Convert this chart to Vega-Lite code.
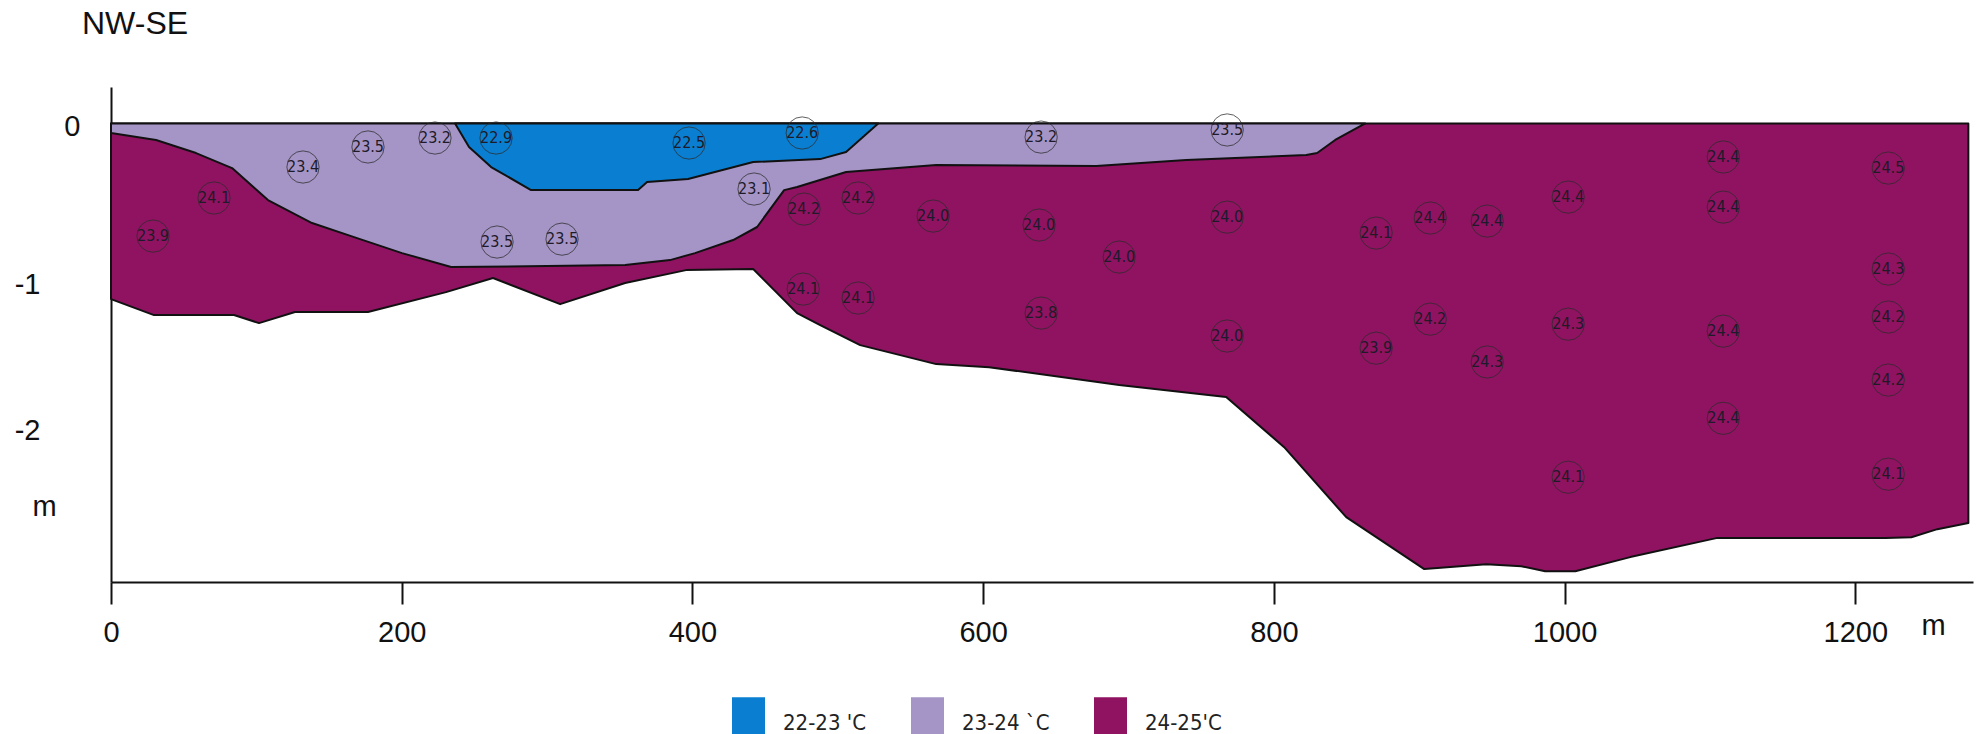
{
  "$schema": "https://vega.github.io/schema/vega-lite/v6.json",
  "width": 1862,
  "height": 495,
  "autosize": {"type": "none"},
  "padding": {"left": 111, "top": 87, "right": 7, "bottom": 152},
  "background": "white",
  "config": {"view": {"stroke": null}, "font": "Liberation Sans"},
  "title": {"text": "NW-SE", "anchor": "start", "frame": "group", "dx": -29, "dy": -21, "offset": 0, "baseline": "alphabetic", "fontSize": 32, "fontWeight": "normal", "font": "Liberation Sans", "color": "#111"},
  "datasets": {
    "bottom": [
      {"x": 0, "y": -1.157, "zone": "24-25'C"}, {"x": 29.6, "y": -1.262, "zone": "24-25'C"}, {"x": 84.6, "y": -1.262, "zone": "24-25'C"},
      {"x": 101.8, "y": -1.315, "zone": "24-25'C"}, {"x": 126.6, "y": -1.242, "zone": "24-25'C"}, {"x": 176.8, "y": -1.242, "zone": "24-25'C"},
      {"x": 230.5, "y": -1.111, "zone": "24-25'C"}, {"x": 262.8, "y": -1.018, "zone": "24-25'C"}, {"x": 309.0, "y": -1.19, "zone": "24-25'C"},
      {"x": 353.7, "y": -1.051, "zone": "24-25'C"}, {"x": 395.6, "y": -0.966, "zone": "24-25'C"}, {"x": 441.8, "y": -0.959, "zone": "24-25'C"},
      {"x": 472.0, "y": -1.249, "zone": "24-25'C"}, {"x": 487.9, "y": -1.328, "zone": "24-25'C"}, {"x": 515.4, "y": -1.46, "zone": "24-25'C"},
      {"x": 567.7, "y": -1.585, "zone": "24-25'C"}, {"x": 604.1, "y": -1.605, "zone": "24-25'C"}, {"x": 693.6, "y": -1.723, "zone": "24-25'C"},
      {"x": 767.2, "y": -1.802, "zone": "24-25'C"}, {"x": 807.1, "y": -2.132, "zone": "24-25'C"}, {"x": 849.8, "y": -2.593, "zone": "24-25'C"},
      {"x": 903.5, "y": -2.935, "zone": "24-25'C"}, {"x": 946.1, "y": -2.903, "zone": "24-25'C"}, {"x": 970.2, "y": -2.916, "zone": "24-25'C"},
      {"x": 986.7, "y": -2.949, "zone": "24-25'C"}, {"x": 1007.4, "y": -2.949, "zone": "24-25'C"}, {"x": 1045.2, "y": -2.856, "zone": "24-25'C"},
      {"x": 1104.4, "y": -2.731, "zone": "24-25'C"}, {"x": 1220.7, "y": -2.731, "zone": "24-25'C"}, {"x": 1238.6, "y": -2.725, "zone": "24-25'C"},
      {"x": 1256.5, "y": -2.672, "zone": "24-25'C"}, {"x": 1277.8, "y": -2.632, "zone": "24-25'C"}
    ],
    "lightpurple": [
      {"x": 0, "y": -0.063, "zone": "23-24 `C"}, {"x": 31.0, "y": -0.109, "zone": "23-24 `C"}, {"x": 58.5, "y": -0.195, "zone": "23-24 `C"},
      {"x": 83.3, "y": -0.294, "zone": "23-24 `C"}, {"x": 108.0, "y": -0.505, "zone": "23-24 `C"}, {"x": 138.3, "y": -0.656, "zone": "23-24 `C"},
      {"x": 169.3, "y": -0.755, "zone": "23-24 `C"}, {"x": 200.2, "y": -0.854, "zone": "23-24 `C"}, {"x": 234.0, "y": -0.946, "zone": "23-24 `C"},
      {"x": 353.7, "y": -0.933, "zone": "23-24 `C"}, {"x": 384.6, "y": -0.9, "zone": "23-24 `C"}, {"x": 401.8, "y": -0.854, "zone": "23-24 `C"},
      {"x": 428.0, "y": -0.768, "zone": "23-24 `C"}, {"x": 444.5, "y": -0.682, "zone": "23-24 `C"}, {"x": 463.1, "y": -0.439, "zone": "23-24 `C"},
      {"x": 472.0, "y": -0.419, "zone": "23-24 `C"}, {"x": 505.7, "y": -0.32, "zone": "23-24 `C"}, {"x": 567.7, "y": -0.274, "zone": "23-24 `C"},
      {"x": 677.8, "y": -0.281, "zone": "23-24 `C"}, {"x": 739.7, "y": -0.241, "zone": "23-24 `C"}, {"x": 822.3, "y": -0.208, "zone": "23-24 `C"},
      {"x": 829.8, "y": -0.195, "zone": "23-24 `C"}, {"x": 842.2, "y": -0.109, "zone": "23-24 `C"}, {"x": 862.9, "y": 0, "zone": "23-24 `C"}
    ],
    "blue": [
      {"x": 236.7, "y": 0, "zone": "22-23 'C"}, {"x": 246.3, "y": -0.155, "zone": "22-23 'C"}, {"x": 261.5, "y": -0.287, "zone": "22-23 'C"},
      {"x": 289.0, "y": -0.439, "zone": "22-23 'C"}, {"x": 362.6, "y": -0.439, "zone": "22-23 'C"}, {"x": 368.8, "y": -0.386, "zone": "22-23 'C"},
      {"x": 397.0, "y": -0.366, "zone": "22-23 'C"}, {"x": 441.8, "y": -0.254, "zone": "22-23 'C"}, {"x": 487.9, "y": -0.235, "zone": "22-23 'C"},
      {"x": 505.7, "y": -0.188, "zone": "22-23 'C"}, {"x": 527.8, "y": 0, "zone": "22-23 'C"}
    ],
    "stations": [
      {"x": 222.9, "y": -0.096, "T": 23.2}, {"x": 264.9, "y": -0.096, "T": 22.9}, {"x": 397.7, "y": -0.129, "T": 22.5},
      {"x": 176.8, "y": -0.155, "T": 23.5}, {"x": 132.1, "y": -0.287, "T": 23.4}, {"x": 70.9, "y": -0.491, "T": 24.1},
      {"x": 28.9, "y": -0.742, "T": 23.9}, {"x": 265.6, "y": -0.781, "T": 23.5}, {"x": 310.3, "y": -0.762, "T": 23.5},
      {"x": 475.5, "y": -0.063, "T": 22.6}, {"x": 639.9, "y": -0.09, "T": 23.2}, {"x": 767.9, "y": -0.043, "T": 23.5},
      {"x": 442.4, "y": -0.432, "T": 23.1}, {"x": 476.8, "y": -0.564, "T": 24.2}, {"x": 514.0, "y": -0.491, "T": 24.2},
      {"x": 565.6, "y": -0.61, "T": 24.0}, {"x": 638.5, "y": -0.669, "T": 24.0}, {"x": 693.6, "y": -0.88, "T": 24.0},
      {"x": 767.9, "y": -0.617, "T": 24.0}, {"x": 476.2, "y": -1.091, "T": 24.1}, {"x": 514.0, "y": -1.15, "T": 24.1},
      {"x": 639.9, "y": -1.249, "T": 23.8}, {"x": 767.9, "y": -1.4, "T": 24.0}, {"x": 1109.2, "y": -0.221, "T": 24.4},
      {"x": 1222.7, "y": -0.294, "T": 24.5}, {"x": 1002.5, "y": -0.485, "T": 24.4}, {"x": 1109.2, "y": -0.551, "T": 24.4},
      {"x": 870.4, "y": -0.722, "T": 24.1}, {"x": 907.6, "y": -0.623, "T": 24.4}, {"x": 946.8, "y": -0.643, "T": 24.4},
      {"x": 1222.7, "y": -0.959, "T": 24.3}, {"x": 907.6, "y": -1.289, "T": 24.2}, {"x": 1002.5, "y": -1.322, "T": 24.3},
      {"x": 1109.2, "y": -1.368, "T": 24.4}, {"x": 1222.7, "y": -1.275, "T": 24.2}, {"x": 870.4, "y": -1.48, "T": 23.9},
      {"x": 946.8, "y": -1.571, "T": 24.3}, {"x": 1222.7, "y": -1.69, "T": 24.2}, {"x": 1109.2, "y": -1.942, "T": 24.4},
      {"x": 1002.5, "y": -2.33, "T": 24.1}, {"x": 1222.7, "y": -2.31, "T": 24.1}
    ]
  },
  "encoding": {
    "x": {
      "field": "x", "type": "quantitative",
      "scale": {"domain": [0, 1281], "nice": false, "zero": false},
      "axis": {
        "values": [0, 200, 400, 600, 800, 1000, 1200], "format": "d", "grid": false, "labelFlush": false,
        "domainColor": "#111", "domainWidth": 2, "tickColor": "#111", "tickWidth": 2, "tickSize": 22,
        "labelFontSize": 29, "labelColor": "#111", "labelPadding": 14, "labelFont": "Liberation Sans",
        "title": "m", "titleX": 1822, "titleY": 52, "titleAlign": "center", "titleBaseline": "alphabetic",
        "titleFontSize": 29, "titleFontWeight": "normal", "titleColor": "#111", "titleFont": "Liberation Sans"
      }
    },
    "y": {
      "field": "y", "type": "quantitative",
      "scale": {"domain": [-3.02, 0.24], "nice": false, "zero": false},
      "axis": {
        "values": [0, -1, -2], "grid": false, "ticks": false, "tickSize": 0,
        "domainColor": "#111", "domainWidth": 2,
        "labelFontSize": 29, "labelColor": "#111", "labelFont": "Liberation Sans",
        "labelPadding": {"condition": {"test": "datum.value === 0", "value": 31}, "value": 71},
        "labelOffset": {"condition": {"test": "datum.value === -1", "value": 9}, "value": 3},
        "labelExpr": "replace(datum.label, '\u2212', '-')",
        "title": "m", "titleAngle": 0, "titleX": -67, "titleY": 428, "titleAlign": "center", "titleBaseline": "alphabetic",
        "titleFontSize": 29, "titleFontWeight": "normal", "titleColor": "#111", "titleFont": "Liberation Sans"
      }
    }
  },
  "layer": [
    {
      "data": {"name": "bottom"},
      "mark": {"type": "area", "stroke": "#111", "strokeWidth": 2, "strokeJoin": "round", "opacity": 1},
      "encoding": {
        "y2": {"datum": 0},
        "color": {
          "field": "zone", "type": "nominal",
          "scale": {"domain": ["22-23 'C", "23-24 `C", "24-25'C"], "range": ["#0a7fd1", "#a595c6", "#8f1361"]},
          "legend": {
            "title": null, "orient": "none", "legendX": 621, "legendY": 619.5, "direction": "horizontal",
            "symbolType": "M-1,-1.58H1V1.58H-1Z", "symbolSize": 1089, "symbolStrokeWidth": 0, "symbolOpacity": 1,
            "labelFont": "Liberation Sans Narrow, DejaVu Sans Condensed, Liberation Sans, sans-serif", "labelFontSize": 22, "labelColor": "#222", "labelOffset": 18,
            "columnPadding": 44, "padding": 0, "labelLimit": 300
          }
        }
      }
    },
    {
      "data": {"name": "lightpurple"},
      "mark": {"type": "area", "stroke": "#111", "strokeWidth": 2, "strokeJoin": "round", "opacity": 1},
      "encoding": {
        "y2": {"datum": 0},
        "color": {"field": "zone", "type": "nominal"}
      }
    },
    {
      "data": {"name": "blue"},
      "mark": {"type": "area", "stroke": "#111", "strokeWidth": 2, "strokeJoin": "round", "opacity": 1},
      "encoding": {
        "y2": {"datum": 0},
        "color": {"field": "zone", "type": "nominal"}
      }
    },
    {
      "data": {"name": "stations"},
      "mark": {"type": "point", "shape": "circle", "filled": false, "size": 1040, "stroke": "#2b2b2b", "strokeWidth": 1, "opacity": 0.75}
    },
    {
      "data": {"name": "stations"},
      "mark": {"type": "text", "font": "Liberation Sans Narrow, DejaVu Sans Condensed, Liberation Sans, sans-serif", "fontSize": 16, "fill": "#1e1a28", "align": "center", "baseline": "middle"},
      "encoding": {"text": {"field": "T", "type": "quantitative", "format": ".1f"}}
    }
  ]
}
